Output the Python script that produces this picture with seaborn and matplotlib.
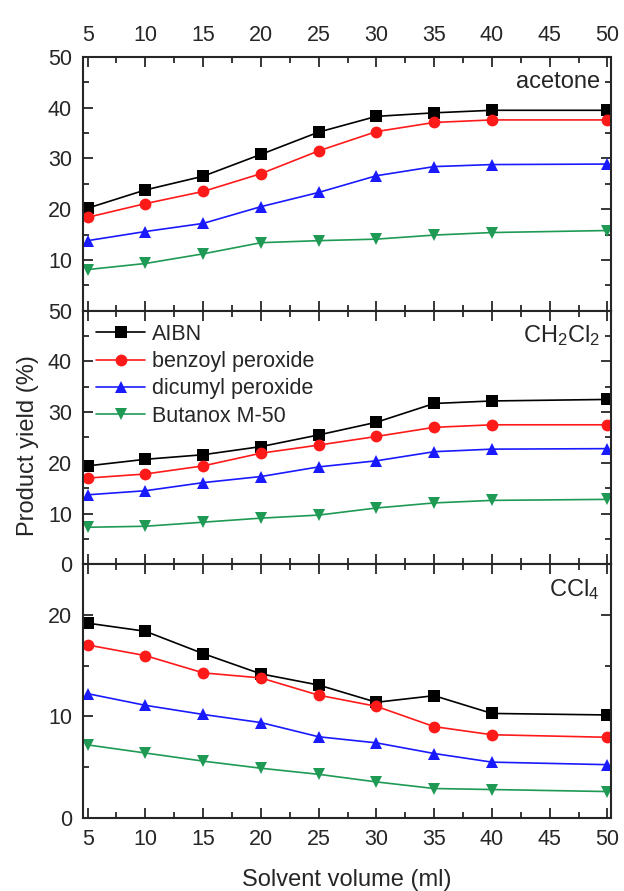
import matplotlib
matplotlib.use("Agg")
import matplotlib.pyplot as plt
import seaborn as sns
import numpy as np
import pandas as pd
from matplotlib.ticker import MultipleLocator

volume = [5, 10, 15, 20, 25, 30, 35, 40, 50]
initiators = ["AIBN", "benzoyl peroxide", "dicumyl peroxide", "Butanox M-50"]

acetone_aibn = [20.2, 23.8, 26.5, 30.8, 35.2, 38.3, 39.0, 39.5, 39.5]
acetone_bpo = [18.4, 21.1, 23.5, 27.0, 31.5, 35.3, 37.1, 37.6, 37.6]
acetone_dcp = [13.8, 15.6, 17.2, 20.5, 23.3, 26.6, 28.4, 28.8, 28.9]
acetone_but = [8.1, 9.3, 11.2, 13.4, 13.8, 14.1, 14.9, 15.4, 15.8]

ch2cl2_aibn = [19.4, 20.7, 21.6, 23.2, 25.5, 28.0, 31.7, 32.2, 32.5]
ch2cl2_bpo = [17.0, 17.8, 19.4, 21.9, 23.5, 25.2, 27.0, 27.5, 27.5]
ch2cl2_dcp = [13.7, 14.5, 16.1, 17.3, 19.2, 20.4, 22.2, 22.7, 22.8]
ch2cl2_but = [7.3, 7.5, 8.3, 9.1, 9.7, 11.1, 12.1, 12.6, 12.8]

ccl4_aibn = [19.2, 18.4, 16.2, 14.2, 13.1, 11.4, 12.05, 10.3, 10.15]
ccl4_bpo = [17.05, 16.0, 14.3, 13.8, 12.1, 11.0, 9.0, 8.2, 7.95]
ccl4_dcp = [12.25, 11.1, 10.2, 9.4, 8.0, 7.4, 6.35, 5.5, 5.25]
ccl4_but = [7.2, 6.4, 5.6, 4.9, 4.3, 3.55, 2.9, 2.8, 2.6]

panels = [
    ("acetone", [acetone_aibn, acetone_bpo, acetone_dcp, acetone_but], 50),
    ("CH$_2$Cl$_2$", [ch2cl2_aibn, ch2cl2_bpo, ch2cl2_dcp, ch2cl2_but], 50),
    ("CCl$_4$", [ccl4_aibn, ccl4_bpo, ccl4_dcp, ccl4_but], 25),
]

sns.set_theme(style="ticks")
plt.rcParams["font.family"] = ["Liberation Sans", "DejaVu Sans"]
plt.rcParams["mathtext.fontset"] = "custom"
plt.rcParams["mathtext.rm"] = "Liberation Sans"
plt.rcParams["mathtext.it"] = "Liberation Sans"

colors = ["#000000", "#ff1a1a", "#1a1aff", "#1e9a55"]
markers = ["s", "o", "^", "v"]

fig, axes = plt.subplots(3, 1, figsize=(6.24, 8.91), dpi=100, sharex=True)
fig.subplots_adjust(left=0.133, right=0.979, top=0.936, bottom=0.082, hspace=0)

for i, (ax, (label, series, ymax)) in enumerate(zip(axes, panels)):
    frames = []
    for name, vals in zip(initiators, series):
        frames.append(pd.DataFrame({"volume": volume, "yield": vals, "initiator": name}))
    df = pd.concat(frames, ignore_index=True)
    sns.lineplot(data=df, x="volume", y="yield", hue="initiator", style="initiator",
                 hue_order=initiators, style_order=initiators,
                 palette=colors, markers=markers, dashes=False,
                 markersize=8.5, linewidth=1.2, markeredgewidth=0,
                 ax=ax, legend=(i == 1))
    ax.set_xlim(4.6, 50.3)
    ax.set_ylim(0, ymax)
    ax.set_xlabel("")
    ax.set_ylabel("")
    ax.xaxis.set_major_locator(MultipleLocator(5))
    ax.xaxis.set_minor_locator(MultipleLocator(2.5))
    ax.yaxis.set_major_locator(MultipleLocator(10))
    ax.yaxis.set_minor_locator(MultipleLocator(5))
    ax.tick_params(which="both", direction="in", top=True, right=True,
                   labelsize=15.5, width=1.3)
    ax.tick_params(which="major", length=7, pad=8)
    ax.tick_params(which="minor", length=4)
    for sp in ax.spines.values():
        sp.set_linewidth(1.5)
    ax.text(0.979, 0.90, label, transform=ax.transAxes, ha="right", va="center",
            fontsize=17)
    if i == 0:
        ax.tick_params(labeltop=True, labelbottom=False)
        ticks = [10, 20, 30, 40, 50]
        ax.set_yticks(ticks)
        ax.set_yticklabels([str(t) for t in ticks])
    elif i == 1:
        ax.tick_params(labelbottom=False)
        leg = ax.legend(loc="upper left", frameon=False, fontsize=15.5,
                        handlelength=2.3, handletextpad=0.3, labelspacing=0.3,
                        borderaxespad=0.2, bbox_to_anchor=(0.0, 1.0))
    else:
        ax.set_yticks([0, 10, 20])
        ax.set_yticks([5, 15, 25], minor=True)

axes[2].set_xlabel("Solvent volume (ml)", fontsize=17, labelpad=14)
fig.text(0.045, 0.5, "Product yield (%)", rotation=90, ha="center", va="center",
         fontsize=17)

fig.savefig("out.png", dpi=100)
